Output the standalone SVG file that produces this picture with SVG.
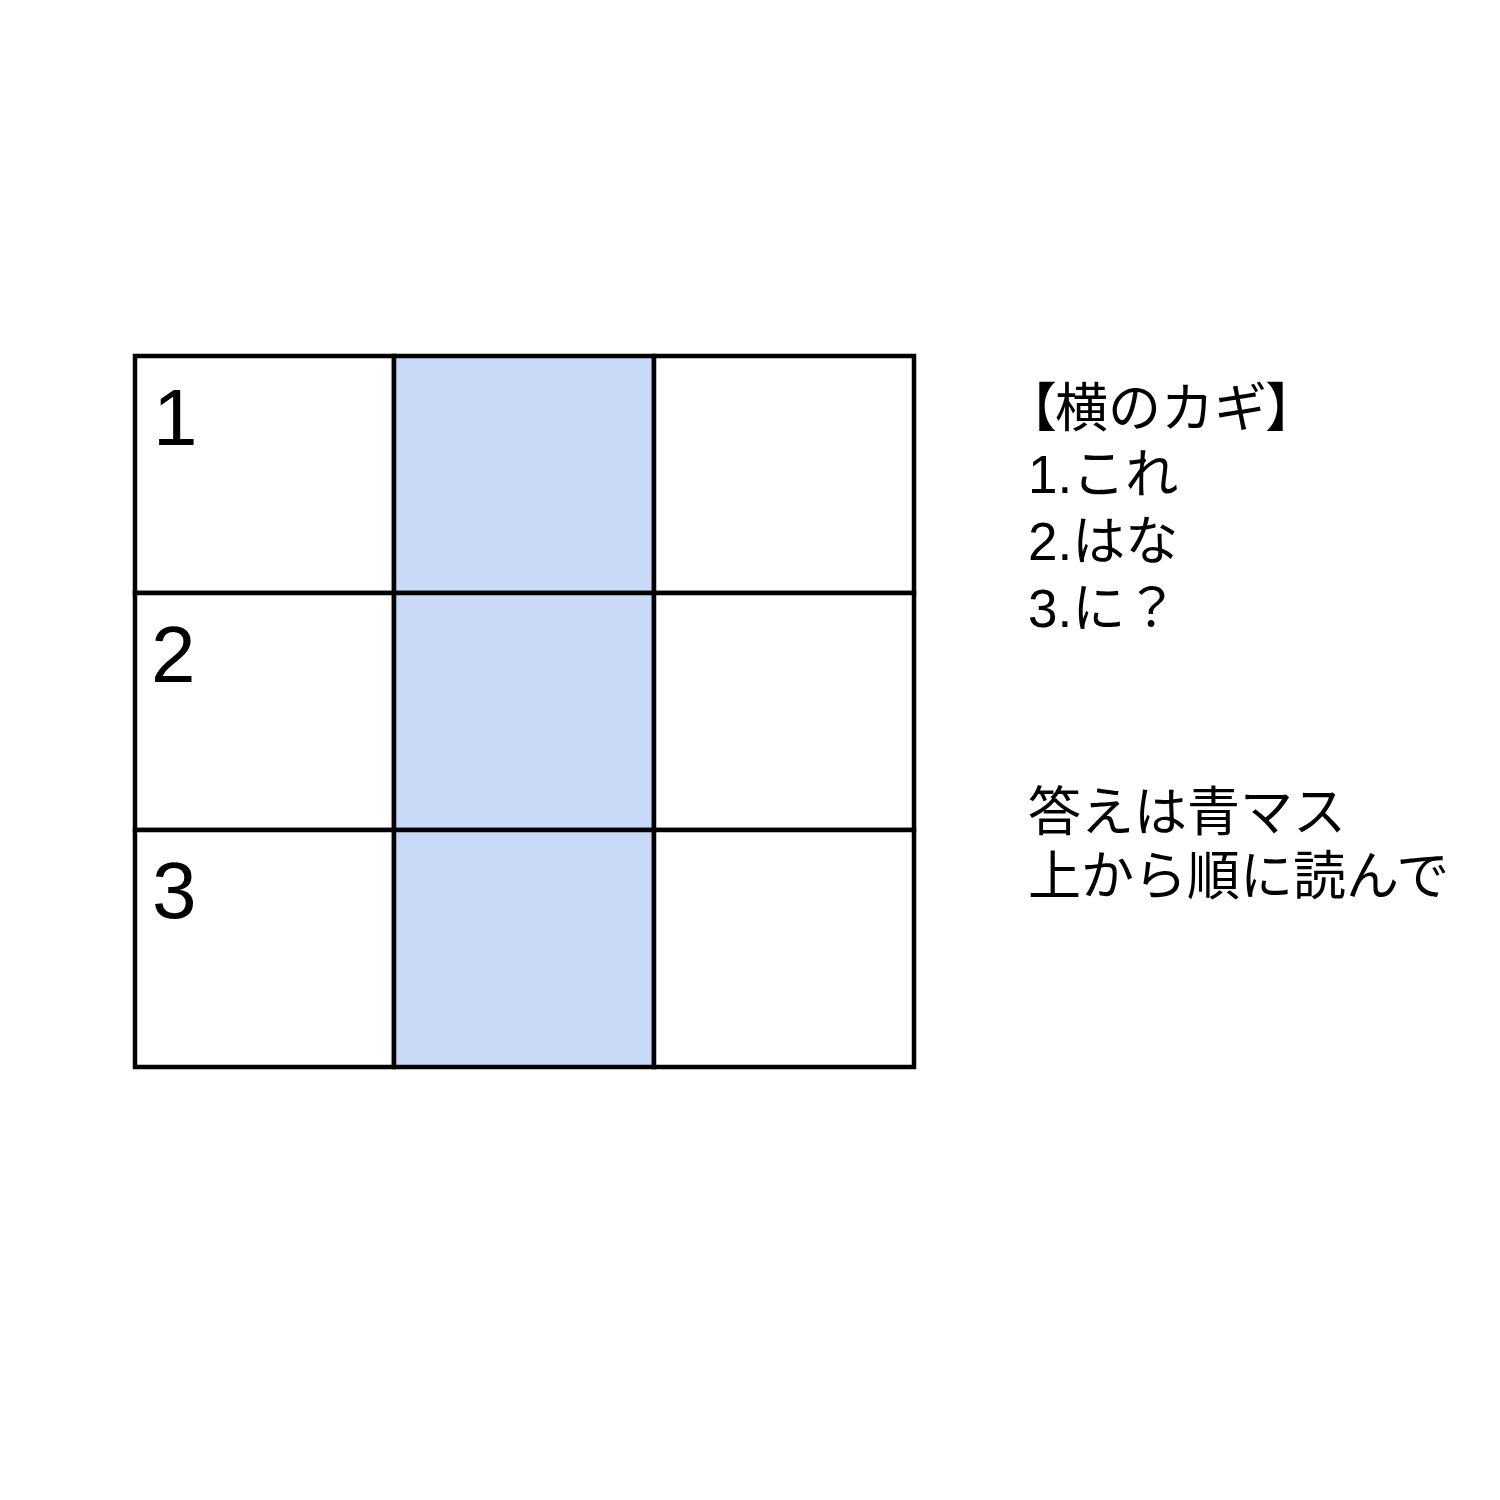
<svg xmlns="http://www.w3.org/2000/svg" width="1500" height="1500" viewBox="0 0 1500 1500">
<style>
.cell{fill:#ffffff;stroke:#000000;stroke-width:4.5;stroke-linejoin:miter}
.blue{fill:#c9daf8}
.num{font-family:"Liberation Sans","Noto Sans CJK JP",sans-serif;font-size:80px;fill:#000}
.clue{font-family:"Liberation Sans","Noto Sans CJK JP",sans-serif;font-size:53px;fill:#000}
</style>
<rect width="1500" height="1500" fill="#ffffff"/>
<g id="grid">
<g id="cell-1-1"><rect class="cell" x="135" y="356" width="259" height="237"/><text class="num" x="153" y="445">1</text></g>
<g id="cell-1-2"><rect class="cell blue" x="394" y="356" width="260" height="237"/></g>
<g id="cell-1-3"><rect class="cell" x="654" y="356" width="260" height="237"/></g>
<g id="cell-2-1"><rect class="cell" x="135" y="593" width="259" height="237"/><text class="num" x="151" y="682">2</text></g>
<g id="cell-2-2"><rect class="cell blue" x="394" y="593" width="260" height="237"/></g>
<g id="cell-2-3"><rect class="cell" x="654" y="593" width="260" height="237"/></g>
<g id="cell-3-1"><rect class="cell" x="135" y="830" width="259" height="237"/><text class="num" x="152" y="918">3</text></g>
<g id="cell-3-2"><rect class="cell blue" x="394" y="830" width="260" height="237"/></g>
<g id="cell-3-3"><rect class="cell" x="654" y="830" width="260" height="237"/></g>
</g>
<g id="connectors"></g>
<g id="clues">
<text class="clue" y="427"><tspan x="1004">【</tspan><tspan x="1055">横のカギ</tspan><tspan x="1265">】</tspan></text>
<text class="clue" x="1028" y="493">1.これ</text>
<text class="clue" x="1028" y="560">2.はな</text>
<text class="clue" x="1028" y="627">3.に？</text>
</g>
<g id="answer">
<text class="clue" x="1028" y="831">答えは青マス</text>
<text class="clue" x="1028" y="895">上から順に読んで</text>
</g>
</svg>
